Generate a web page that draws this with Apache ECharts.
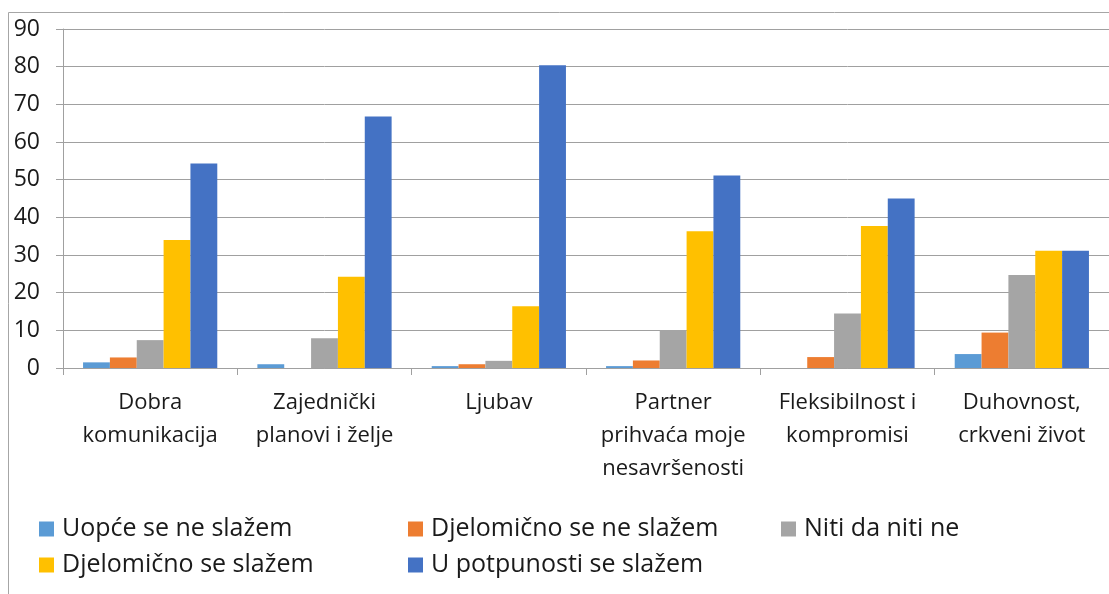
<!DOCTYPE html>
<html><head><meta charset="utf-8">
<script src="https://cdn.jsdelivr.net/npm/echarts@6/dist/echarts.min.js"></script>
<style>html,body{margin:0;padding:0;background:#fff}#c{width:1109px;height:594px}</style>
</head><body><div id="c"></div>
<script>
const categories = ["Dobra\nkomunikacija", "Zajednički\nplanovi i želje", "Ljubav", "Partner\nprihvaća moje\nnesavršenosti", "Fleksibilnost i\nkompromisi", "Duhovnost,\ncrkveni život"];
const seriesNames = ["Uopće se ne slažem", "Djelomično se ne slažem", "Niti da niti ne", "Djelomično se slažem", "U potpunosti se slažem"];
const uopce = [1.5, 1.0, 0.5, 0.5, 0, 3.7];
const djelNe = [2.8, 0, 1.0, 2.0, 2.9, 9.4];
const niti = [7.4, 7.9, 1.9, 10.1, 14.5, 24.7];
const djelDa = [34.0, 24.2, 16.4, 36.3, 37.7, 31.1];
const potpuno = [54.3, 66.8, 80.4, 51.1, 45.0, 31.1];
const yTicks = [0, 10, 20, 30, 40, 50, 60, 70, 80, 90];

const colors = ["#5B9BD5", "#ED7D31", "#A5A5A5", "#FFC000", "#4472C4"];
const values = [uopce, djelNe, niti, djelDa, potpuno];
const font = "'Open Sans', Lato, sans-serif";
const legendPos = [[39, 516], [408, 516], [781, 516], [39, 552], [408, 552]];

const chart = echarts.init(document.getElementById('c'), null, {renderer: 'canvas'});
chart.setOption({
  animation: false,
  color: colors,
  graphic: [{
    type: 'rect', silent: true,
    shape: {x: 8.5, y: 12.5, width: 1300, height: 800},
    style: {fill: 'none', stroke: '#A6A6A6', lineWidth: 1}
  }],
  grid: {left: 63, top: 29, width: 1057, bottom: 226, containLabel: false},
  legend: seriesNames.map((n, i) => ({
    data: [n], left: legendPos[i][0], top: legendPos[i][1], padding: 0,
    itemWidth: 15, itemHeight: 15, icon: 'rect', itemGap: 0,
    textStyle: {fontFamily: font, fontSize: 25, lineHeight: 26, color: '#1A1A1A', padding: [0, 0, 0, 3]}
  })),
  xAxis: {
    type: 'category', data: categories,
    axisLine: {show: true, lineStyle: {color: '#A0A0A0', width: 1}},
    axisTick: {show: true, length: 7, interval: 0, lineStyle: {color: '#A0A0A0'}},
    axisLabel: {interval: 0, fontFamily: font, fontSize: 22, lineHeight: 33, color: '#1A1A1A', margin: 18}
  },
  yAxis: {
    type: 'value', min: 0, max: 90, interval: 10,
    axisLine: {show: true, lineStyle: {color: '#A0A0A0'}},
    axisTick: {show: true, length: 7, lineStyle: {color: '#A0A0A0'}},
    axisLabel: {fontFamily: font, fontSize: 23, color: '#1A1A1A', margin: 23,
      formatter: v => yTicks.includes(v) ? String(v) : ''},
    splitLine: {show: true, lineStyle: {color: '#A0A0A0', width: 1}}
  },
  series: seriesNames.map((n, i) => ({
    name: n, type: 'bar', data: values[i],
    barGap: '0%', barCategoryGap: '23%',
    itemStyle: {color: colors[i]}
  }))
});
</script></body></html>
